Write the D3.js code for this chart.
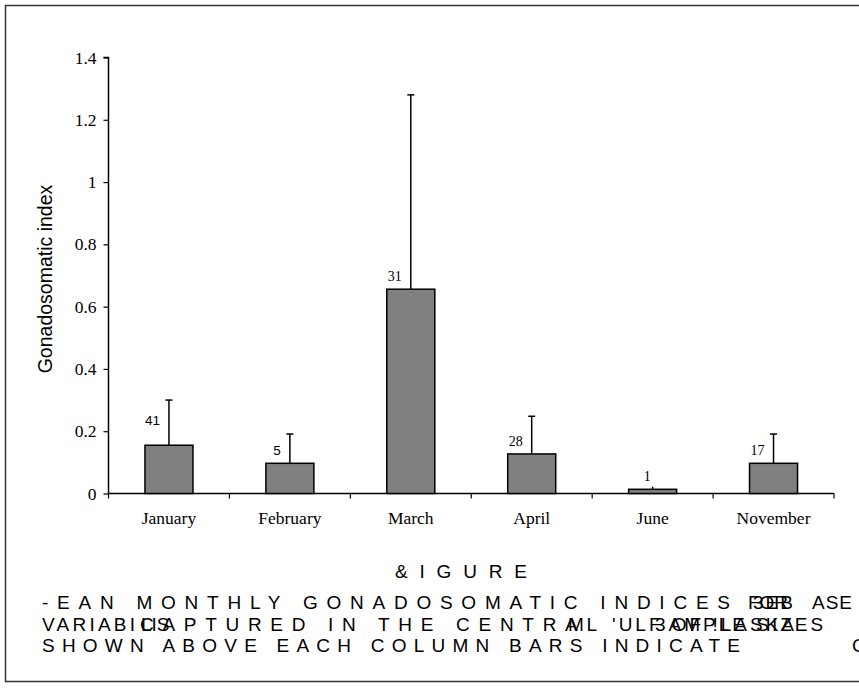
<!DOCTYPE html>
<html><head><meta charset="utf-8">
<script src="https://cdn.jsdelivr.net/npm/d3@7"></script>
<style>body{margin:0;background:#fff}svg{display:block}</style>
</head><body>
<script>
const months = ["January","February","March","April","June","November"];
const meanGSI = [0.155, 0.097, 0.656, 0.127, 0.0135, 0.097];
const upperErr = [0.300, 0.191, 1.280, 0.248, 0.022, 0.191];
const sampleN = ["41","5","31","28","1","17"];
const yTicks = [0, 0.2, 0.4, 0.6, 0.8, 1, 1.2, 1.4];
const yTitle = "Gonadosomatic index";
const captionTitle = "&IGURE";
const captionLine1 = ["-EAN MONTHLY GONADOSOMATIC INDICES", "FOR", "3EB", "ASE"];
const captionLine2 = ["VARIABI", "LIS", "CAPTURED IN THE CENTRAL", "M", "'ULF OF !LASKA", "3AMPLE SIZES"];
const captionLine3 = ["SHOWN ABOVE EACH COLUMN  BARS INDICATE", "C"];

const W = 859, H = 688;
const svg = d3.select("body").append("svg").attr("width", W).attr("height", H);
svg.append("rect").attr("width", W).attr("height", H).attr("fill", "#fff");
svg.append("rect").attr("x", 5.5).attr("y", 5.5).attr("width", 880).attr("height", 676)
  .attr("fill", "none").attr("stroke", "#333").attr("stroke-width", 1.5);

const serif = "'Liberation Serif','Times New Roman',serif";
const sans = "'Liberation Sans',Arial,sans-serif";

const x = d3.scaleBand().domain(months).range([108.5, 834]).padding(0);
const y = d3.scaleLinear().domain([0, 1.4]).range([493.5, 57.5]);
const barW = 48;

// Y axis
const yAxis = svg.append("g").attr("transform", "translate(108.5,0)")
  .call(d3.axisLeft(y).tickValues(yTicks).tickSize(5).tickPadding(7)
    .tickFormat(d => String(+d.toFixed(1))));
yAxis.select(".domain").attr("stroke", "#000").attr("stroke-width", 1.5).attr("d", `M-5,${y(1.4)}H0V${y(0)}`);
yAxis.selectAll(".tick line").attr("stroke", "#000").attr("stroke-width", 1.2);
yAxis.selectAll(".tick text").attr("font-family", serif).attr("font-size", 17.5).attr("fill", "#000");

// X axis
const xAxis = svg.append("g").attr("transform", `translate(0,${y(0)})`)
  .call(d3.axisBottom(x).tickSize(0).tickPadding(30));
xAxis.select(".domain").attr("stroke", "#000").attr("stroke-width", 1.5).attr("d", `M${x.range()[0]},0H${x.range()[1]}`);
xAxis.selectAll(".tick text").attr("font-family", serif).attr("font-size", 17.5).attr("fill", "#000").attr("dy", "0");
const bounds = months.map(m => x(m)).concat([x.range()[1]]);
xAxis.selectAll(".bnd").data(bounds).join("line").attr("class", "bnd")
  .attr("x1", d => d).attr("x2", d => d).attr("y1", 0).attr("y2", 5)
  .attr("stroke", "#000").attr("stroke-width", 1.2);

// bars
const cx = i => x(months[i]) + x.bandwidth() / 2;
svg.append("g").selectAll("rect").data(meanGSI).join("rect")
  .attr("x", (d, i) => cx(i) - barW / 2).attr("width", barW)
  .attr("y", d => y(d)).attr("height", d => y(0) - y(d))
  .attr("fill", "#808080").attr("stroke", "#000").attr("stroke-width", 1.5);

// error bars
const eb = svg.append("g").attr("stroke", "#000").attr("stroke-width", 1.5);
eb.selectAll(".v").data(upperErr).join("line").attr("class", "v")
  .attr("x1", (d, i) => cx(i)).attr("x2", (d, i) => cx(i))
  .attr("y1", (d, i) => y(meanGSI[i])).attr("y2", d => y(d));
eb.selectAll(".c").data(upperErr).join("line").attr("class", "c")
  .attr("x1", (d, i) => cx(i) - 3.5).attr("x2", (d, i) => cx(i) + 3.5)
  .attr("y1", d => y(d)).attr("y2", d => y(d))
  .attr("opacity", d => d < 0.05 ? 0 : 1);

// sample sizes
svg.append("g").selectAll("text").data(sampleN).join("text")
  .attr("x", (d, i) => cx(i) - (i === 4 ? 2 : 9))
  .attr("y", (d, i) => y(meanGSI[i]) - (i === 0 ? 20 : 8))
  .attr("text-anchor", "end")
  .attr("font-family", (d, i) => i < 2 ? sans : serif)
  .attr("font-size", (d, i) => i < 2 ? 13.5 : 14)
  .text(d => d);

// y title
svg.append("text").attr("transform", `translate(52,279) rotate(-90)`)
  .attr("text-anchor", "middle").attr("font-family", sans).attr("font-size", 19.5)
  .text(yTitle);

// caption
function cap(t, x0, yb, opt) {
  const el = svg.append("text").attr("x", x0).attr("y", yb).attr("font-family", sans)
    .attr("font-size", 19).attr("fill", "#000").text(t);
  if (opt.len) el.attr("textLength", opt.len).attr("lengthAdjust", "spacing");
  if (opt.ls !== undefined) el.attr("letter-spacing", opt.ls);
}
cap(captionTitle, 395, 578, {len: 132});
cap(captionLine1[0], 42, 609, {len: 688});
cap(captionLine1[1], 748, 609, {len: 40});
cap(captionLine1[2], 753, 609, {ls: 2});
cap(captionLine1[3], 812, 609, {ls: 1});
cap(captionLine2[0], 42, 631, {len: 93});
cap(captionLine2[1], 141, 631, {ls: 0});
cap(captionLine2[2], 140, 631, {len: 457});
cap(captionLine2[3], 568, 631, {ls: 0});
cap(captionLine2[4], 612, 631, {ls: 3});
cap(captionLine2[5], 655, 631, {ls: 3});
cap(captionLine3[0], 42, 652, {len: 698});
cap(captionLine3[1], 852, 652, {ls: 0});
</script>
</body></html>
